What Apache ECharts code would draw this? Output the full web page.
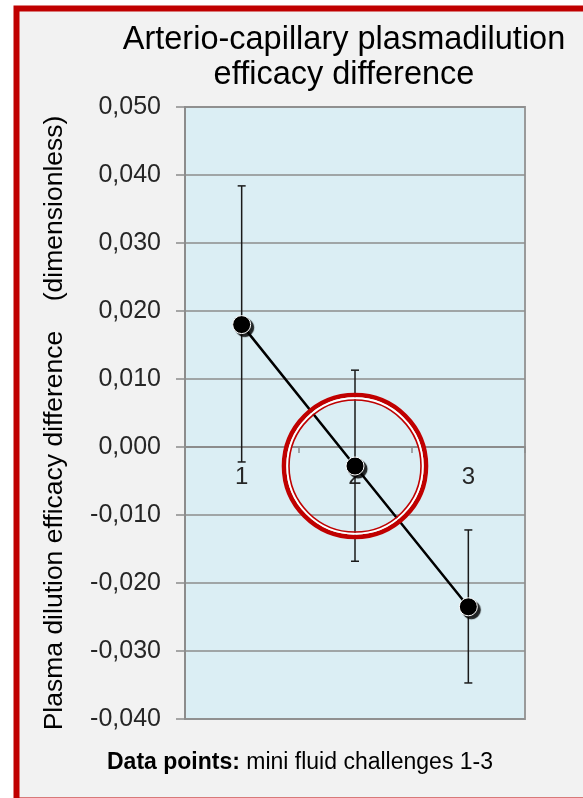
<!DOCTYPE html>
<html>
<head>
<meta charset="utf-8">
<style>
  html, body { margin: 0; padding: 0; background: #ffffff; }
  #chart { width: 583px; height: 798px; }
</style>
<script src="https://cdn.jsdelivr.net/npm/echarts@6/dist/echarts.min.js"></script>
</head>
<body>
<div id="chart"></div>
<script>
// Mini fluid challenges and their arterio-capillary plasmadilution efficacy difference
const categories = ['1', '2', '3'];
const meanValues = [0.0180, -0.0028, -0.0235];
const errorHigh = [0.0384, 0.0113, -0.0122];
const errorLow = [-0.0022, -0.0168, -0.0347];
const yMin = -0.04;
const yMax = 0.05;
const yStep = 0.01;

const FONT = '"Liberation Sans", Arial, sans-serif';
const RED = '#c00000';

const chart = echarts.init(document.getElementById('chart'), null, { renderer: 'canvas' });

const errorData = categories.map((c, i) => [i, errorLow[i], errorHigh[i]]);

chart.setOption({
  backgroundColor: '#ffffff',
  animation: false,
  title: {
    text: 'Arterio-capillary plasmadilution\nefficacy difference',
    left: 339,
    top: 18,
    textAlign: 'center',
    textStyle: {
      fontFamily: FONT,
      fontSize: 32.5,
      fontWeight: 'normal',
      color: '#000000',
      lineHeight: 35
    }
  },
  graphic: [
    {
      id: 'frame',
      type: 'rect',
      z: -10,
      silent: true,
      shape: { x: 16.5, y: 8.5, width: 620, height: 792 },
      style: { fill: '#f2f2f2', stroke: RED, lineWidth: 6 }
    },
    {
      id: 'footnote',
      type: 'text',
      x: 300,
      y: 763,
      silent: true,
      style: {
        text: '{b|Data points:} mini fluid challenges 1-3',
        align: 'center',
        verticalAlign: 'middle',
        fontFamily: FONT,
        fontSize: 23,
        fill: '#000000',
        rich: {
          b: { fontFamily: FONT, fontSize: 23, fontWeight: 'bold', fill: '#000000' }
        }
      }
    }
  ],
  grid: {
    left: 185,
    right: 58,
    top: 107,
    bottom: 79,
    show: true,
    backgroundColor: '#dbeef4',
    borderColor: '#9a9a9a',
    borderWidth: 2
  },
  xAxis: {
    type: 'category',
    data: categories,
    boundaryGap: true,
    axisLine: { onZero: false, lineStyle: { color: '#8c8c8c', width: 2 } },
    axisTick: { show: true, length: 6, lineStyle: { color: '#8c8c8c', width: 1.5 } },
    axisLabel: { fontFamily: FONT, fontSize: 24, color: '#262626', margin: 18 },
    splitLine: { show: false }
  },
  yAxis: {
    type: 'value',
    min: yMin,
    max: yMax,
    interval: yStep,
    name: 'Plasma dilution efficacy difference    (dimensionless)',
    nameLocation: 'middle',
    nameGap: 117,
    nameTextStyle: { fontFamily: FONT, fontSize: 26.5, color: '#000000', padding: [0, 20, 0, 0] },
    axisLine: { show: true, lineStyle: { color: '#8c8c8c', width: 2 } },
    axisTick: { show: true, length: 9, lineStyle: { color: '#8c8c8c', width: 1.5 } },
    axisLabel: {
      fontFamily: FONT,
      fontSize: 25,
      color: '#262626',
      margin: 24,
      formatter: v => v.toFixed(3).replace('.', ',')
    },
    splitLine: { show: true, lineStyle: { color: '#8c8c8c', width: 1.5 } }
  },
  series: [
    {
      type: 'custom',
      name: 'error',
      data: errorData,
      z: 3,
      renderItem: function (params, api) {
        const x = api.value(0);
        const lo = api.coord([x, api.value(1)]);
        const hi = api.coord([x, api.value(2)]);
        const cap = 4;
        const st = { stroke: '#1a1a1a', lineWidth: 1.5 };
        return {
          type: 'group',
          children: [
            { type: 'line', shape: { x1: hi[0], y1: hi[1], x2: lo[0], y2: lo[1] }, style: st },
            { type: 'line', shape: { x1: hi[0] - cap, y1: hi[1], x2: hi[0] + cap, y2: hi[1] }, style: st },
            { type: 'line', shape: { x1: lo[0] - cap, y1: lo[1], x2: lo[0] + cap, y2: lo[1] }, style: st }
          ]
        };
      }
    },
    {
      type: 'line',
      name: 'mean',
      data: meanValues,
      z: 5,
      symbol: 'circle',
      symbolSize: 18,
      lineStyle: { color: '#000000', width: 2.5 },
      itemStyle: {
        color: '#000000',
        borderColor: '#ffffff',
        borderWidth: 1,
        shadowColor: 'rgba(0,0,0,0.85)',
        shadowBlur: 1,
        shadowOffsetX: 3,
        shadowOffsetY: 3
      }
    }
  ]
});

// Category axis sits on the zero line; double ring highlights the second challenge
const zeroY = chart.convertToPixel({ yAxisIndex: 0 }, 0);
const floorY = chart.convertToPixel({ yAxisIndex: 0 }, yMin);
const c = chart.convertToPixel({ gridIndex: 0 }, [1, meanValues[1]]);
chart.setOption({
  xAxis: { offset: -(floorY - zeroY) },
  graphic: [
    {
      id: 'ringOuter',
      type: 'circle', z: 20, silent: true,
      shape: { cx: c[0], cy: c[1], r: 71 },
      style: { fill: 'none', stroke: RED, lineWidth: 4.6 }
    },
    {
      id: 'ringGap',
      type: 'circle', z: 20, silent: true,
      shape: { cx: c[0], cy: c[1], r: 67.7 },
      style: { fill: 'none', stroke: '#ffffff', lineWidth: 2 }
    },
    {
      id: 'ringInner',
      type: 'circle', z: 20, silent: true,
      shape: { cx: c[0], cy: c[1], r: 66 },
      style: { fill: 'none', stroke: RED, lineWidth: 1.6 }
    }
  ]
});
</script>
</body>
</html>
